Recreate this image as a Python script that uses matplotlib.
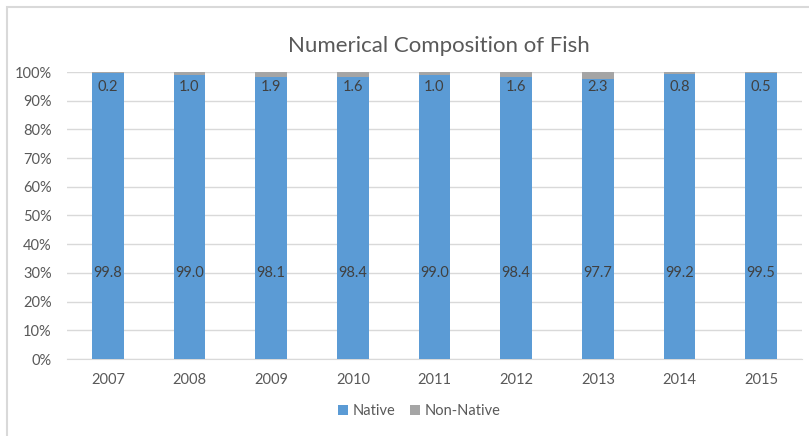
import matplotlib
matplotlib.use("Agg")
import matplotlib.pyplot as plt
from matplotlib.patches import Rectangle
from matplotlib.ticker import PercentFormatter

years = ["2007", "2008", "2009", "2010", "2011", "2012", "2013", "2014", "2015"]
native = [99.8, 99.0, 98.1, 98.4, 99.0, 98.4, 97.7, 99.2, 99.5]
non_native = [0.2, 1.0, 1.9, 1.6, 1.0, 1.6, 2.3, 0.8, 0.5]

BLUE = "#5B9BD5"
GREY = "#A5A5A5"
TEXT = "#595959"
GRID = "#D9D9D9"

plt.rcParams["font.family"] = ["Lato", "DejaVu Sans"]

W, H = 809, 436
fig = plt.figure(figsize=(W / 100, H / 100), dpi=100)

# chart border (only top and left edges fall inside the canvas)
fig.patches.append(Rectangle((7 / W, -0.1), 1.2, 1 - 7 / H + 0.1,
                             transform=fig.transFigure, fill=False,
                             edgecolor=GRID, linewidth=1.5))

ax = fig.add_axes([67 / W, (H - 359) / H, (802 - 67) / W, (359 - 72) / H])

x = range(len(years))
ax.bar(x, native, width=0.39, color=BLUE, zorder=3, label="Native")
ax.bar(x, non_native, width=0.39, bottom=native, color=GREY, zorder=3,
       label="Non-Native")

for i in x:
    ax.text(i, 30, f"{native[i]:.1f}", ha="center", va="center",
            fontsize=10.5, color="#404040", zorder=4)
    ax.text(i, 94.8, f"{non_native[i]:.1f}", ha="center", va="center",
            fontsize=10.5, color="#404040", zorder=4)

ax.set_xlim(-0.5, len(years) - 0.5)
ax.set_ylim(0, 100)
ax.set_yticks(range(0, 101, 10))
ax.yaxis.set_major_formatter(PercentFormatter(decimals=0))
ax.set_xticks(list(x))
ax.set_xticklabels(years)
ax.tick_params(axis="both", length=0, labelsize=10.5, colors=TEXT)
ax.tick_params(axis="x", pad=10)
ax.tick_params(axis="y", pad=11)
ax.grid(axis="y", color=GRID, linewidth=1, zorder=0)
for side in ["top", "right", "left"]:
    ax.spines[side].set_visible(False)
ax.spines["bottom"].set_color(GRID)

fig.text(439 / W, (H - 46) / H, "Numerical Composition of Fish", ha="center",
         va="center", fontsize=16, color=TEXT)

fig.legend(loc="center", bbox_to_anchor=(419 / W, (H - 411) / H), ncol=2,
           frameon=False, fontsize=10.5, handlelength=0.7, handleheight=0.7,
           handletextpad=0.3, columnspacing=1.0, labelcolor=TEXT)

fig.savefig("out.png", dpi=100)
